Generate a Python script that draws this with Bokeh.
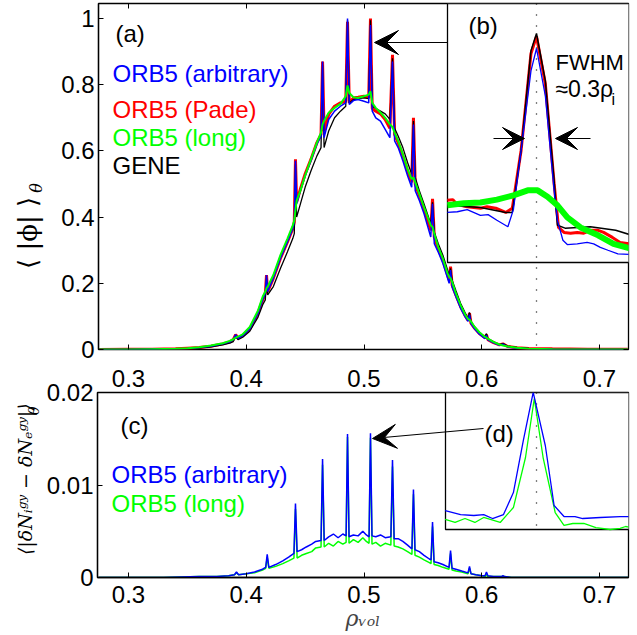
from math import pi
from bokeh.plotting import figure
from bokeh.models import Range1d, LinearAxis, FixedTicker, Label, Arrow, VeeHead
from bokeh.layouts import column, row
from bokeh.core.properties import value
from bokeh.embed import file_html
from bokeh.resources import INLINE

# ---------------- data ----------------
xticks = [0.3, 0.4, 0.5, 0.6, 0.7]
xtick_labels = ["0.3", "0.4", "0.5", "0.6", "0.7"]
phi_ticks = [0, 0.2, 0.4, 0.6, 0.8, 1.0]
phi_tick_labels = ["0", "0.2", "0.4", "0.6", "0.8", "1"]
dens_ticks = [0, 0.01, 0.02]
dens_tick_labels = ["0", "0.01", "0.02"]

# panel (a): <|phi|>_theta versus rho_vol
phi_x = [0.275, 0.300, 0.320, 0.340, 0.350, 0.360, 0.370, 0.380, 0.386, 0.389,
         0.391, 0.393, 0.397, 0.403, 0.410, 0.414, 0.4162, 0.4172, 0.4182, 0.423,
         0.429, 0.435, 0.4395, 0.4408, 0.4418, 0.4428, 0.446, 0.450, 0.455, 0.460,
         0.4635, 0.4648, 0.4661, 0.470, 0.475, 0.480, 0.4845, 0.486, 0.4875, 0.491,
         0.495, 0.500, 0.504, 0.5055, 0.507, 0.510, 0.514, 0.518, 0.522, 0.5242,
         0.526, 0.529, 0.533, 0.537, 0.5405, 0.542, 0.5435, 0.547, 0.551, 0.5567,
         0.5582, 0.5597, 0.563, 0.567, 0.571, 0.5723, 0.5735, 0.5748, 0.578, 0.582,
         0.586, 0.5884, 0.5896, 0.5908, 0.594, 0.598, 0.6028, 0.604, 0.6052, 0.610,
         0.615, 0.618, 0.622, 0.630, 0.640, 0.660, 0.690, 0.724]
phi_arbitrary = [0, 0, 0.001, 0.002, 0.003, 0.006, 0.010, 0.017, 0.023, 0.030,
                 0.045, 0.034, 0.042, 0.062, 0.110, 0.150, 0.170, 0.225, 0.175, 0.215,
                 0.275, 0.325, 0.365, 0.385, 0.570, 0.440, 0.480, 0.525, 0.570, 0.620,
                 0.645, 0.870, 0.640, 0.695, 0.720, 0.735, 0.745, 1.000, 0.740, 0.752,
                 0.755, 0.750, 0.745, 0.980, 0.720, 0.700, 0.690, 0.665, 0.640, 0.870,
                 0.630, 0.610, 0.570, 0.525, 0.490, 0.680, 0.480, 0.450, 0.410, 0.340,
                 0.440, 0.320, 0.295, 0.260, 0.215, 0.200, 0.240, 0.190, 0.160, 0.125,
                 0.098, 0.085, 0.105, 0.078, 0.062, 0.046, 0.033, 0.043, 0.029, 0.020,
                 0.013, 0.016, 0.008, 0.004, 0.002, 0.001, 0.000, 0.000]
phi_pade = [0, 0.001, 0.001, 0.002, 0.004, 0.006, 0.010, 0.017, 0.023, 0.030,
            0.045, 0.034, 0.042, 0.062, 0.110, 0.150, 0.170, 0.225, 0.175, 0.215,
            0.275, 0.325, 0.365, 0.385, 0.575, 0.445, 0.485, 0.530, 0.575, 0.625,
            0.650, 0.870, 0.660, 0.710, 0.735, 0.745, 0.750, 0.990, 0.745, 0.760,
            0.762, 0.765, 0.760, 1.000, 0.728, 0.720, 0.712, 0.695, 0.668, 0.890,
            0.650, 0.625, 0.585, 0.540, 0.505, 0.700, 0.500, 0.465, 0.425, 0.360,
            0.455, 0.340, 0.305, 0.270, 0.225, 0.210, 0.250, 0.195, 0.165, 0.130,
            0.102, 0.088, 0.110, 0.080, 0.064, 0.048, 0.035, 0.045, 0.030, 0.021,
            0.014, 0.017, 0.009, 0.005, 0.003, 0.002, 0.001, 0.001]
phi_long = [0, 0, 0.001, 0.002, 0.004, 0.007, 0.012, 0.019, 0.026, 0.031,
            0.036, 0.039, 0.046, 0.068, 0.118, 0.160, 0.175, 0.185, 0.190, 0.225,
            0.285, 0.335, 0.375, 0.390, 0.420, 0.450, 0.480, 0.525, 0.575, 0.625,
            0.655, 0.680, 0.690, 0.715, 0.730, 0.742, 0.765, 0.798, 0.775, 0.762,
            0.760, 0.765, 0.770, 0.780, 0.745, 0.730, 0.716, 0.700, 0.680, 0.672,
            0.655, 0.630, 0.590, 0.545, 0.515, 0.520, 0.505, 0.470, 0.430, 0.375,
            0.370, 0.350, 0.310, 0.275, 0.230, 0.220, 0.215, 0.205, 0.170, 0.135,
            0.105, 0.092, 0.090, 0.085, 0.068, 0.052, 0.038, 0.036, 0.033, 0.023,
            0.015, 0.012, 0.009, 0.005, 0.002, 0.001, 0.000, 0.000]
phi_gene = [0, 0, 0.001, 0.001, 0.002, 0.004, 0.008, 0.014, 0.019, 0.024,
            0.040, 0.030, 0.037, 0.055, 0.098, 0.135, 0.150, 0.215, 0.165, 0.190,
            0.245, 0.295, 0.335, 0.350, 0.560, 0.400, 0.440, 0.490, 0.540, 0.585,
            0.610, 0.860, 0.610, 0.660, 0.700, 0.720, 0.735, 0.995, 0.745, 0.755,
            0.758, 0.760, 0.758, 0.995, 0.735, 0.728, 0.720, 0.712, 0.695, 0.880,
            0.668, 0.645, 0.610, 0.565, 0.530, 0.690, 0.520, 0.480, 0.440, 0.380,
            0.445, 0.355, 0.320, 0.285, 0.240, 0.225, 0.245, 0.210, 0.178, 0.140,
            0.110, 0.095, 0.112, 0.085, 0.068, 0.052, 0.038, 0.048, 0.033, 0.023,
            0.015, 0.018, 0.010, 0.006, 0.003, 0.001, 0.000, 0.000]

# zoom insets are centred on the rational surface at rho_vol = 0.5055
zoom_center = 0.5055

# inset (b): zoom of panel (a)
b_x_gene = [0.4974, 0.5004, 0.5027, 0.5033, 0.5041, 0.5050, 0.5055, 0.5063, 0.5071, 0.5074,
            0.5081, 0.5104, 0.5127, 0.5146]
b_gene = [0.759, 0.756, 0.749, 0.749, 0.836, 0.976, 1.000, 0.934, 0.794, 0.731,
          0.727, 0.729, 0.724, 0.715]
b_x_pade = [0.4974, 0.4979, 0.4983, 0.4992, 0.5004, 0.5010, 0.5018, 0.5027, 0.5033, 0.5041,
            0.5050, 0.5055, 0.5063, 0.5071, 0.5075, 0.5080, 0.5086, 0.5092, 0.5098, 0.5104,
            0.5111, 0.5116, 0.5124, 0.5131, 0.5140, 0.5146]
b_pade = [0.766, 0.767, 0.760, 0.757, 0.755, 0.757, 0.755, 0.749, 0.755, 0.836,
          0.972, 0.996, 0.930, 0.790, 0.728, 0.721, 0.720, 0.721, 0.720, 0.724,
          0.724, 0.721, 0.714, 0.707, 0.705, 0.710]
b_x_arbitrary = [0.4974, 0.4983, 0.4992, 0.5004, 0.5011, 0.5019, 0.5029, 0.5034, 0.5041, 0.5050,
                 0.5055, 0.5063, 0.5071, 0.5074, 0.5079, 0.5083, 0.5092, 0.5101, 0.5107, 0.5113,
                 0.5120, 0.5129, 0.5141, 0.5146]
b_arbitrary = [0.749, 0.750, 0.753, 0.745, 0.746, 0.738, 0.729, 0.753, 0.836, 0.948,
               0.979, 0.913, 0.780, 0.738, 0.710, 0.704, 0.705, 0.707, 0.705, 0.700,
               0.696, 0.691, 0.690, 0.689]
b_x_long = [0.4974, 0.4989, 0.5004, 0.5019, 0.5034, 0.5047, 0.5056, 0.5065, 0.5074, 0.5083,
            0.5095, 0.5111, 0.5125, 0.5141, 0.5146]
b_long = [0.759, 0.762, 0.763, 0.767, 0.773, 0.780, 0.780, 0.771, 0.759, 0.742,
          0.728, 0.717, 0.705, 0.698, 0.696]

# panel (c): <|dN_i - dN_e|>_theta versus rho_vol
dens_x = [0.275, 0.300, 0.330, 0.360, 0.375, 0.385, 0.390, 0.3917, 0.3935, 0.400,
          0.407, 0.4138, 0.4165, 0.4178, 0.4192, 0.425, 0.431, 0.436, 0.4405, 0.4418,
          0.4432, 0.447, 0.451, 0.4556, 0.459, 0.4635, 0.4648, 0.4662, 0.470, 0.474,
          0.478, 0.482, 0.4848, 0.486, 0.4873, 0.491, 0.495, 0.499, 0.502, 0.5043,
          0.5055, 0.5068, 0.510, 0.514, 0.518, 0.5228, 0.5242, 0.5256, 0.529, 0.533,
          0.537, 0.5407, 0.542, 0.5433, 0.547, 0.551, 0.5555, 0.5569, 0.5582, 0.5595,
          0.563, 0.567, 0.5722, 0.5735, 0.5748, 0.578, 0.583, 0.5883, 0.5896, 0.5909,
          0.595, 0.600, 0.6028, 0.604, 0.6052, 0.610, 0.6168, 0.618, 0.6192, 0.625,
          0.640, 0.670, 0.700, 0.7245]
dens_arbitrary = [0, 0, 0, 0.0001, 0.0001, 0.0002, 0.0003, 0.0006, 0.0003, 0.0004,
                  0.0006, 0.0009, 0.0011, 0.0025, 0.0011, 0.0014, 0.0018, 0.0022, 0.0026, 0.0080,
                  0.0028, 0.0030, 0.0033, 0.0036, 0.0039, 0.0040, 0.0128, 0.0040, 0.0044, 0.0047,
                  0.0043, 0.0047, 0.0045, 0.0155, 0.0044, 0.0046, 0.0045, 0.0050, 0.0046, 0.0044,
                  0.0156, 0.0045, 0.0044, 0.0046, 0.0043, 0.0044, 0.0127, 0.0042, 0.0042, 0.0039,
                  0.0035, 0.0031, 0.0095, 0.0030, 0.0028, 0.0024, 0.0020, 0.0019, 0.0060, 0.0017,
                  0.0016, 0.0014, 0.0011, 0.0029, 0.0010, 0.0009, 0.0007, 0.0005, 0.0012, 0.0004,
                  0.0003, 0.0002, 0.0002, 0.0006, 0.0002, 0.0001, 0.0001, 0.0002, 0.0001, 0.0000,
                  0, 0, 0, 0]
dens_long = [0, 0, 0, 0.0001, 0.0001, 0.0002, 0.0003, 0.0005, 0.0003, 0.0004,
             0.0005, 0.0008, 0.0010, 0.0022, 0.0010, 0.0012, 0.0015, 0.0018, 0.0021, 0.0074,
             0.0021, 0.0024, 0.0026, 0.0028, 0.0032, 0.0033, 0.0122, 0.0033, 0.0037, 0.0034,
             0.0039, 0.0036, 0.0038, 0.0152, 0.0037, 0.0041, 0.0038, 0.0043, 0.0039, 0.0037,
             0.0151, 0.0036, 0.0038, 0.0034, 0.0037, 0.0035, 0.0120, 0.0034, 0.0033, 0.0031,
             0.0028, 0.0025, 0.0090, 0.0024, 0.0022, 0.0019, 0.0016, 0.0015, 0.0055, 0.0014,
             0.0013, 0.0011, 0.0009, 0.0026, 0.0008, 0.0007, 0.0006, 0.0004, 0.0010, 0.0004,
             0.0003, 0.0002, 0.0001, 0.0004, 0.0001, 0.0001, 0.0001, 0.0001, 0.0001, 0.0000,
             0, 0, 0, 0]

# inset (d): zoom of panel (c)
d_x_arbitrary = [0.4972, 0.4986, 0.4998, 0.5007, 0.5015, 0.5025, 0.5034, 0.5043, 0.5052, 0.5063,
                 0.5071, 0.5080, 0.5090, 0.5097, 0.5113, 0.5131, 0.5144]
d_arbitrary = [0.00433, 0.00394, 0.00385, 0.00394, 0.00356, 0.00394, 0.00607, 0.01109, 0.01573, 0.01061,
               0.00482, 0.00375, 0.00375, 0.00356, 0.00366, 0.00375, 0.00375]
d_x_long = [0.4972, 0.4981, 0.4990, 0.4999, 0.5007, 0.5022, 0.5034, 0.5045, 0.5053, 0.5061,
            0.5072, 0.5080, 0.5088, 0.5098, 0.5109, 0.5122, 0.5131, 0.5136, 0.5141, 0.5144]
d_long = [0.00347, 0.00318, 0.00356, 0.00318, 0.00366, 0.00318, 0.00462, 0.00945, 0.01515, 0.00945,
          0.00414, 0.00289, 0.00308, 0.00308, 0.00269, 0.00250, 0.00260, 0.00279, 0.00269, 0.00270]

# ---------------- styling / geometry ----------------
BLUE, RED, GREEN, BLACK = "#0000ff", "#ff0000", "#00ff00", "#000000"
SANS = "Liberation Sans"
SERIF = "DejaVu Serif"

W, H_TOTAL = 637, 635
H1 = 362                    # top row height
H2 = H_TOTAL - H1           # bottom row height
LW1, LW2 = 46, 40           # widths of the y-label columns
F1_L, F1_R, F1_T, F1_B = 98, 628, 3, 349      # panel (a) frame (page px)
F2_L, F2_R, F2_T, F2_B = 97, 628, 392, 577    # panel (c) frame (page px)


def X(px):                   # page px -> rho_vol (both panels)
    return 0.3 + (px - 128.0) / 1177.5


def Y1(py):                  # page px -> panel (a) value
    return (349.0 - py) / 331.0


def Y2(py):                  # page px -> panel (c) value
    return (577.0 - py) / 9250.0


def XZ(px):                  # page px -> inset rho_vol
    return zoom_center + (px - 536.0) / 11000.0


def YB(py):                  # page px -> inset (b) value
    return 1.0 - (py - 33.0) / 713.0


def YD(py):                  # page px -> inset (d) value
    return 0.0165 - (py - 384.0) / 10357.0


def style_axis(ax, ticks, labels, standoff, tick_in=5):
    ax.ticker = FixedTicker(ticks=ticks)
    ax.major_label_overrides = dict(zip(ticks, labels))
    ax.major_tick_line_color = "black"
    ax.major_tick_line_width = 1
    ax.minor_tick_line_color = None
    ax.axis_line_color = "black"
    ax.axis_line_width = 1.3
    ax.major_tick_in = tick_in
    ax.major_tick_out = 0
    ax.major_label_standoff = standoff
    ax.major_label_text_font = SANS
    ax.major_label_text_font_size = "24px"
    ax.major_label_text_color = "black"


def tick_only_axis(ticks):
    ax = LinearAxis()
    style_axis(ax, ticks, [""] * len(ticks), 0)
    ax.major_label_text_font_size = "0px"
    ax.axis_line_color = None
    return ax


def add_label(p, x, y, text, size, color="black", font=SANS, align="left", **kw):
    p.add_layout(Label(x=x, y=y, text=text, text_font=font, text_font_size=f"{size}px",
                       text_color=color, text_align=align, text_baseline="middle", **kw))


def plain_fig(w, h, **kw):
    f = figure(width=w, height=h, title=None, output_backend="svg",
               toolbar_location=None, **kw)
    f.outline_line_color = None
    f.background_fill_color = "white"
    f.border_fill_color = "white"
    f.grid.visible = False
    return f


def label_fig(w, h):
    return plain_fig(w, h, x_range=Range1d(0, w), y_range=Range1d(0, h),
                     x_axis_location=None, y_axis_location=None,
                     min_border_left=0, min_border_right=0,
                     min_border_top=0, min_border_bottom=0)


# ---------------- top row: panel (a) + inset (b) ----------------
p1 = plain_fig(W - LW1, H1,
               x_range=Range1d(X(F1_L), X(F1_R)), y_range=Range1d(Y1(F1_B), Y1(F1_T)),
               x_axis_location=None,
               min_border_left=F1_L - LW1, min_border_right=W - F1_R,
               min_border_top=F1_T, min_border_bottom=H1 - F1_B)
p1.outline_line_color = "black"
p1.outline_line_width = 1.3
p1.extra_x_ranges = {"zx": Range1d(XZ(F1_L), XZ(F1_R))}
p1.extra_y_ranges = {"zy": Range1d(YB(F1_B), YB(F1_T))}
style_axis(p1.yaxis[0], phi_ticks, phi_tick_labels, 4)
p1.add_layout(tick_only_axis(xticks), "below")
p1.add_layout(tick_only_axis(xticks[:3]), "above")
p1.add_layout(tick_only_axis(phi_ticks[:2]), "right")

p1.line(phi_x, phi_pade, line_color=RED, line_width=3)
p1.line(phi_x, phi_gene, line_color=BLACK, line_width=1.3)
p1.line(phi_x, phi_arbitrary, line_color=BLUE, line_width=1.5)
p1.line(phi_x, phi_long, line_color=GREEN, line_width=2)

p1.add_layout(Arrow(end=VeeHead(size=24, fill_color="black", line_color="black"),
                    x_start=X(447), y_start=Y1(42), x_end=X(374), y_end=Y1(42),
                    line_color="black", line_width=1.2))

# inset (b)
p1.quad(left=XZ(447), right=XZ(636), top=YB(3), bottom=YB(262),
        fill_color="white", line_color="black", line_width=1.3,
        x_range_name="zx", y_range_name="zy")
p1.line([zoom_center, zoom_center], [YB(3), YB(F1_B)], line_color="black",
        line_width=1.3, line_dash="1 10", x_range_name="zx", y_range_name="zy")
p1.line(b_x_pade, b_pade, line_color=RED, line_width=3, x_range_name="zx", y_range_name="zy")
p1.line(b_x_gene, b_gene, line_color=BLACK, line_width=1.5, x_range_name="zx", y_range_name="zy")
p1.line(b_x_arbitrary, b_arbitrary, line_color=BLUE, line_width=1.3, x_range_name="zx", y_range_name="zy")
p1.line(b_x_long, b_long, line_color=GREEN, line_width=6, x_range_name="zx", y_range_name="zy")
for xs, xe in ((XZ(493), XZ(524)), (XZ(590), XZ(555))):
    p1.add_layout(Arrow(end=VeeHead(size=22, fill_color="black", line_color="black"),
                        x_start=xs, y_start=YB(138), x_end=xe, y_end=YB(138),
                        line_color="black", line_width=1.2,
                        x_range_name="zx", y_range_name="zy"))

add_label(p1, X(115), Y1(33), "(a)", 24)
add_label(p1, X(112), Y1(73), "ORB5 (arbitrary)", 24, color=BLUE)
add_label(p1, X(112), Y1(109), "ORB5 (Pade)", 24, color=RED)
add_label(p1, X(112), Y1(137), "ORB5 (long)", 24, color=GREEN)
add_label(p1, X(112), Y1(165), "GENE", 24)
add_label(p1, X(468), Y1(25), "(b)", 24)
add_label(p1, X(555), Y1(62), "FWHM", 22)
add_label(p1, X(555), Y1(88), "≈0.3ρ", 23)
add_label(p1, X(611), Y1(99), "i", 16)

ylab1 = label_fig(LW1, H1)
ylab1.text(x=[27], y=[H1 - 240], text=["⟨ |ϕ| ⟩"], angle=pi / 2,
           text_font=value(SERIF), text_font_size=value("26px"),
           text_align="center", text_baseline="middle", text_color="black")
ylab1.text(x=[36], y=[H1 - 193], text=["θ"], angle=pi / 2,
           text_font=value(SERIF), text_font_size=value("16px"),
           text_font_style=value("italic"),
           text_align="center", text_baseline="middle", text_color="black")

# ---------------- bottom row: panel (c) + inset (d) ----------------
p2 = plain_fig(W - LW2, H2,
               x_range=Range1d(X(F2_L), X(F2_R)), y_range=Range1d(Y2(F2_B), Y2(F2_T)),
               min_border_left=F2_L - LW2, min_border_right=W - F2_R,
               min_border_top=F2_T - H1, min_border_bottom=H_TOTAL - F2_B)
p2.outline_line_color = "black"
p2.outline_line_width = 1.3
p2.extra_x_ranges = {"zx": Range1d(XZ(F2_L), XZ(F2_R))}
p2.extra_y_ranges = {"zy": Range1d(YD(F2_B), YD(F2_T))}
style_axis(p2.yaxis[0], dens_ticks, dens_tick_labels, 4)
style_axis(p2.xaxis[0], xticks, xtick_labels, 8)
p2.xaxis[0].axis_label = "ρᵥₒₗ"
p2.xaxis[0].axis_label_text_font = SERIF
p2.xaxis[0].axis_label_text_font_size = "22px"
p2.xaxis[0].axis_label_text_font_style = "italic"
p2.xaxis[0].axis_label_standoff = 0
top_ax = LinearAxis()
style_axis(top_ax, xticks, xtick_labels, 6, tick_in=0)
top_ax.axis_line_color = None
p2.add_layout(top_ax, "above")      # tick labels that belong to panel (a)
p2.add_layout(tick_only_axis(dens_ticks[:1]), "right")

p2.line(dens_x, dens_long, line_color=GREEN, line_width=1.5)
p2.line(dens_x, dens_arbitrary, line_color=BLUE, line_width=1.5)

p2.add_layout(Arrow(end=VeeHead(size=24, fill_color="black", line_color="black"),
                    x_start=X(483), y_start=Y2(428), x_end=X(372), y_end=Y2(438),
                    line_color="black", line_width=1.2))

# inset (d)
p2.quad(left=XZ(445), right=XZ(634), top=YD(F2_T), bottom=YD(529),
        fill_color="white", line_color="black", line_width=1.3,
        x_range_name="zx", y_range_name="zy")
p2.line([zoom_center, zoom_center], [YD(F2_T), YD(529)], line_color="black",
        line_width=1.3, line_dash="1 10", x_range_name="zx", y_range_name="zy")
p2.line(d_x_long, d_long, line_color=GREEN, line_width=1.3, x_range_name="zx", y_range_name="zy")
p2.line(d_x_arbitrary, d_arbitrary, line_color=BLUE, line_width=1.3, x_range_name="zx", y_range_name="zy")

add_label(p2, X(120), Y2(425), "(c)", 24)
add_label(p2, X(484), Y2(433), "(d)", 24)
add_label(p2, X(111), Y2(474), "ORB5 (arbitrary)", 24, color=BLUE)
add_label(p2, X(111), Y2(503), "ORB5 (long)", 24, color=GREEN)

ylab2 = label_fig(LW2, H2)
ylab2.text(x=[24], y=[H_TOTAL - 490], text=["⟨|δNᵢᵍʸ − δNₑᵍʸ|⟩"], angle=pi / 2,
           text_font=value(SERIF), text_font_size=value("19px"),
           text_font_style=value("italic"),
           text_align="center", text_baseline="middle", text_color="black")
ylab2.text(x=[33], y=[H_TOTAL - 389], text=["θ"], angle=pi / 2,
           text_font=value(SERIF), text_font_size=value("14px"),
           text_font_style=value("italic"),
           text_align="center", text_baseline="middle", text_color="black")

layout = column(row(ylab1, p1, spacing=0), row(ylab2, p2, spacing=0), spacing=0)
open("out.html", "w").write(file_html(layout, INLINE))
